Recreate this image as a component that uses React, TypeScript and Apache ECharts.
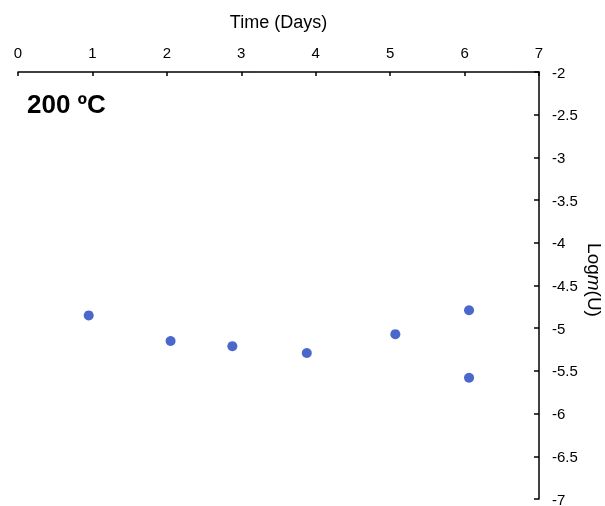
import React, { useEffect, useRef } from "react";
import * as echarts from "echarts";

const days = [0.95, 2.05, 2.88, 3.88, 5.07, 6.06, 6.06];
const logMU = [-4.85, -5.15, -5.21, -5.29, -5.07, -4.79, -5.58];
const xTitle = "Time (Days)";
const yTitleRich = "{a|Log}{b|m}{a|(U)}";
const panelLabel = "200 ºC";

export default function App() {
  const ref = useRef<HTMLDivElement>(null);
  useEffect(() => {
    if (!ref.current) return;
    const chart = echarts.init(ref.current, undefined, { renderer: "svg" });
    const font = "Liberation Sans, Arial, Helvetica, sans-serif";
    chart.setOption({
      animation: false,
      textStyle: { fontFamily: font },
      title: {
        text: panelLabel,
        left: 27,
        top: 91,
        padding: 0,
        textStyle: { fontSize: 26, fontWeight: "bold", color: "#000", fontFamily: font },
      },
      graphic: [
        {
          type: "text",
          x: 594,
          y: 280,
          rotation: -Math.PI / 2,
          style: {
            text: yTitleRich,
            align: "center",
            verticalAlign: "middle",
            rich: {
              a: { fontSize: 19, fill: "#000", fontFamily: font },
              b: { fontSize: 19, fill: "#000", fontStyle: "italic", fontFamily: font },
            },
          },
        },
      ],
      grid: {
        left: 18,
        right: 66,
        top: 72,
        bottom: 7,
        containLabel: false,
        outerBoundsMode: "none",
      },
      xAxis: {
        type: "value",
        position: "top",
        min: 0,
        max: 7,
        interval: 1,
        name: xTitle,
        nameLocation: "middle",
        nameGap: 41,
        nameTextStyle: { fontSize: 18, color: "#000", fontFamily: font },
        axisLine: { show: true, onZero: false, lineStyle: { color: "#000", width: 1.5 } },
        axisTick: { show: true, inside: true, length: 4, lineStyle: { color: "#000", width: 1.5 } },
        axisLabel: { fontSize: 15, color: "#000", margin: 12, fontFamily: font },
        splitLine: { show: false },
      },
      yAxis: {
        type: "value",
        position: "right",
        min: -7,
        max: -2,
        interval: 0.5,
        axisLine: { show: true, onZero: false, lineStyle: { color: "#000", width: 1.5 } },
        axisTick: { show: true, inside: true, length: 5, lineStyle: { color: "#000", width: 1.5 } },
        axisLabel: { fontSize: 15, color: "#000", margin: 13, fontFamily: font },
        splitLine: { show: false },
      },
      series: [
        {
          type: "scatter",
          data: days.map((d, i) => [d, logMU[i]]),
          symbol: "circle",
          symbolSize: 10,
          itemStyle: { color: "#4a67cc", opacity: 1 },
        },
      ],
    });
    return () => chart.dispose();
  }, []);
  return (
    <div
      ref={ref}
      style={{ position: "fixed", left: 0, top: 0, width: 605, height: 506 }}
    />
  );
}
